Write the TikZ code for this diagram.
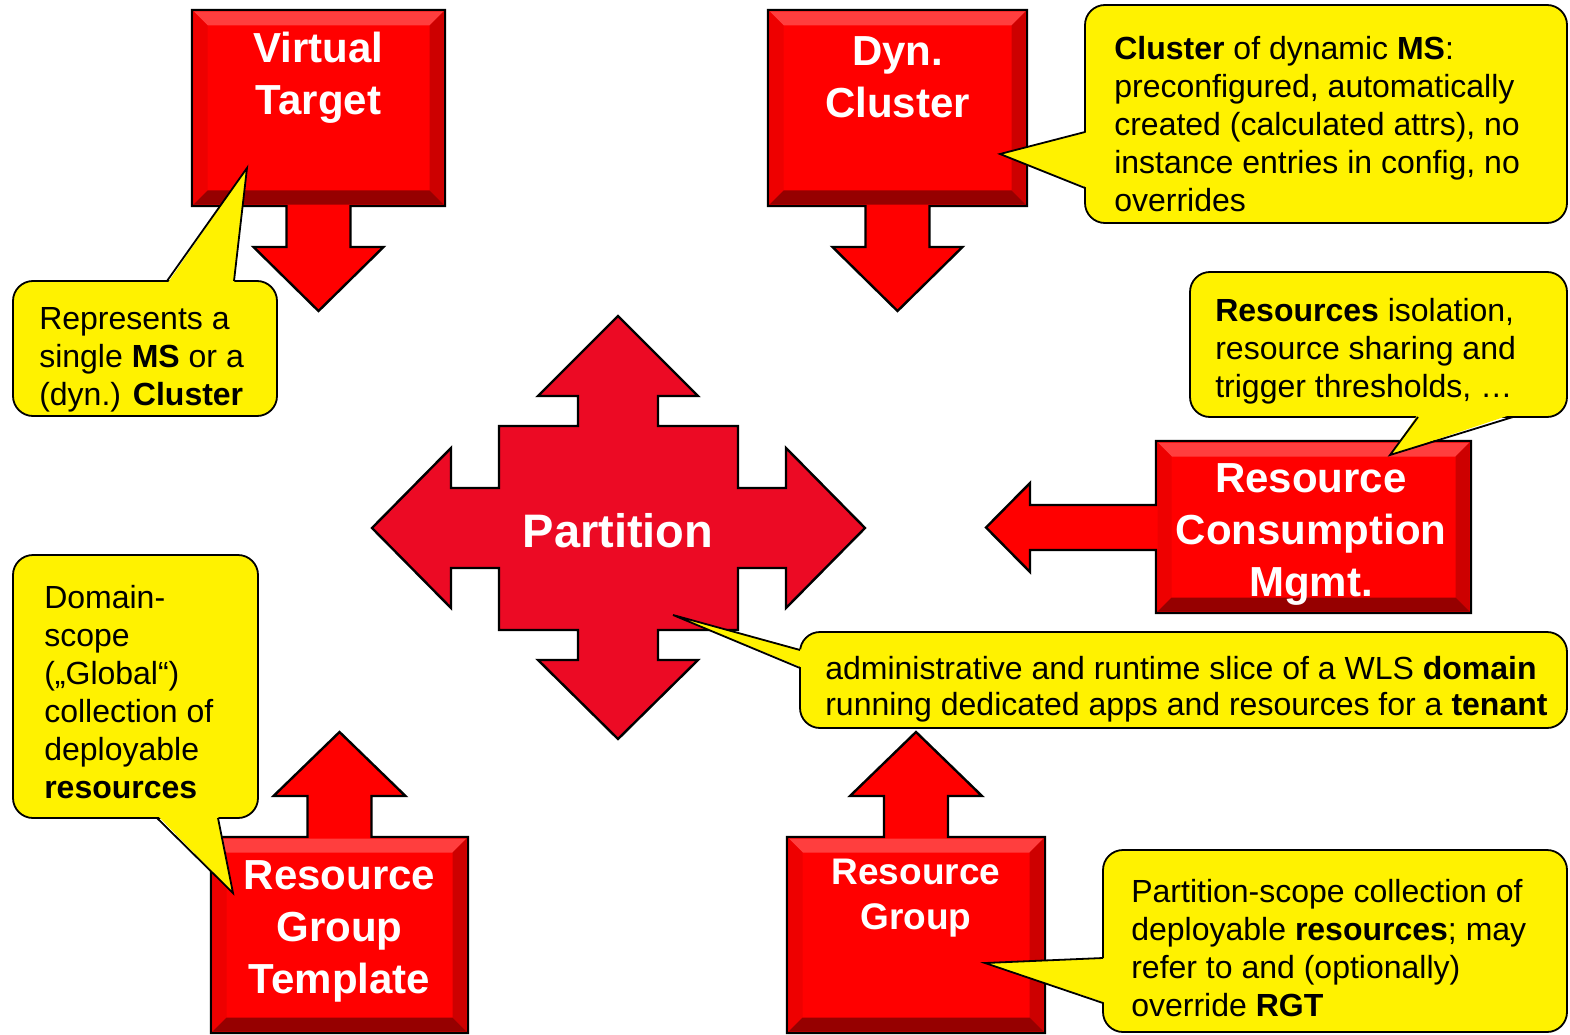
\documentclass[tikz,border=0pt]{standalone}
\usepackage{fontspec}
\setmainfont{Liberation Sans}
\usetikzlibrary{positioning}

\definecolor{boxred}{RGB}{255,0,0}
\definecolor{crossred}{RGB}{236,10,36}
\definecolor{bevlight}{RGB}{255,62,62}
\definecolor{bevdark}{RGB}{150,0,0}
\definecolor{bevside}{RGB}{205,0,0}
\definecolor{bevleft}{RGB}{238,0,0}

\newcommand{\bevelbox}[4]{%
  \fill[bevlight] (#1,#2) -- (#3,#2) -- (#3-14,#2+14) -- (#1+14,#2+14) -- cycle;
  \fill[bevleft] (#1,#2) -- (#1,#4) -- (#1+14,#4-14) -- (#1+14,#2+14) -- cycle;
  \fill[bevside] (#3,#2) -- (#3,#4) -- (#3-14,#4-14) -- (#3-14,#2+14) -- cycle;
  \fill[bevdark] (#1,#4) -- (#3,#4) -- (#3-14,#4-14) -- (#1+14,#4-14) -- cycle;
}

\begin{document}
\begin{tikzpicture}[
    x=1pt, y=-1pt,
    redshape/.style={fill=boxred, draw=black, line width=2.4pt, line join=miter},
    title/.style={text=white, font=\bfseries\fontsize{42}{52}\selectfont, align=center, inner sep=0},
    bubble/.style={draw=black, fill=yellow, line width=1.8pt, rounded corners=20pt, inner sep=0},
    note/.style={font=\fontsize{32}{38}\selectfont, align=left, inner sep=0},
    ptr/.style={draw=black, line width=1.8pt, line join=miter},
  ]
  \useasboundingbox (0,0) rectangle (1570,1035);

  \foreach \xa/\xb in {192/445,768/1027}{
      \pgfmathsetmacro{\xc}{(\xa+\xb)/2}
      \draw[redshape] (\xa,10) -- (\xb,10) -- (\xb,206) -- (\xc+32,206) -- (\xc+32,247)
      -- (\xc+65,247) -- (\xc,311) -- (\xc-65,247) -- (\xc-32,247) -- (\xc-32,206)
      -- (\xa,206) -- cycle;
      \bevelbox{\xa+1.5}{11.5}{\xb-1.5}{204.5}
    }
  \foreach \xa/\xb in {211/468,787/1045}{
      \pgfmathsetmacro{\xc}{(\xa+\xb)/2}
      \draw[redshape] (\xa,837) -- (\xc-32,837) -- (\xc-32,796) -- (\xc-66,796) -- (\xc,732)
      -- (\xc+66,796) -- (\xc+32,796) -- (\xc+32,837) -- (\xb,837) -- (\xb,1033)
      -- (\xa,1033) -- cycle;
      \bevelbox{\xa+1.5}{838.5}{\xb-1.5}{1031.5}
    }
  \draw[redshape] (1156,441) -- (1471,441) -- (1471,613) -- (1156,613) -- (1156,550)
  -- (1030,550) -- (1030,572) -- (986,527.5) -- (1030,483) -- (1030,505) -- (1156,505) -- cycle;
  \bevelbox{1157.5}{442.5}{1469.5}{611.5}

  \draw[redshape, fill=crossred] (618,316) -- (698,396) -- (658,396) -- (658,426) -- (738,426)
  -- (738,488) -- (786,488) -- (786,448) -- (865,528) -- (786,608) -- (786,568) -- (738,568)
  -- (738,630) -- (658,630) -- (658,660) -- (698,660) -- (618,739) -- (538,660) -- (578,660)
  -- (578,630) -- (499,630) -- (499,568) -- (451,568) -- (451,608) -- (372,528) -- (451,448)
  -- (451,488) -- (499,488) -- (499,426) -- (578,426) -- (578,396) -- (538,396) -- cycle;

  \node[title] (vt) at (318.5,78) {Virtual\\Target};
  \node[title] (dc) at (897.5,77) {Dyn.\\Cluster};
  \node[title, font=\bfseries\fontsize{47}{56}\selectfont] (part) at (618,531) {Partition};
  \node[title] (rcm) at (1311,534) {Resource\\Consumption\\Mgmt.};
  \node[title] (rgt) at (339.5,931) {Resource\\Group\\Template};
  \node[title, font=\bfseries\fontsize{37}{45}\selectfont] (rg) at (916,898) {Resource\\Group};

  \node[bubble, minimum width=264pt, minimum height=135pt] (vtnote) at (145,348.5) {};
  \node[bubble, minimum width=482pt, minimum height=218pt] (dcnote) at (1326,114) {};
  \node[bubble, minimum width=377pt, minimum height=145pt] (rcmnote) at (1378.5,344.5) {};
  \node[bubble, minimum width=767pt, minimum height=96pt] (partnote) at (1183.5,680) {};
  \node[bubble, minimum width=245pt, minimum height=263pt] (rgtnote) at (135.5,686.5) {};
  \node[bubble, minimum width=464pt, minimum height=182pt] (rgnote) at (1335,941) {};

  \coordinate (vttip) at (247,168);
  \coordinate (dctip) at (1000,154);
  \coordinate (rcmtip) at (1390,455);
  \coordinate (parttip) at (673,615);
  \coordinate (rgttip) at (233,893);
  \coordinate (rgtip) at (985,963);

  \foreach \ax/\ay/\bx/\by/\dx/\dy/\t in {167/281/234/281/0/3/vttip,
      1085/132/1085/188/3/0/dctip, 1418/417/1513/417/0/-3/rcmtip,
      800/650/800/668/3/0/parttip, 157/818/218/818/0/-3/rgttip,
      1103/958/1103/1003/3/0/rgtip}{
      \fill[yellow] (\ax+\dx,\ay+\dy) -- (\t) -- (\bx+\dx,\by+\dy) -- cycle;
      \draw[ptr] (\ax,\ay) -- (\t) -- (\bx,\by);
    }

  \node[note, right=27pt of vtnote.west, yshift=-11pt] (vttext)
  {Represents a\\single \textbf{MS} or a\\(dyn.) \textbf{Cluster}};
  \node[note, right=30pt of dcnote.west, yshift=-10pt] (dctext)
  {\textbf{Cluster} of dynamic \textbf{MS}:\\preconfigured, automatically\\created (calculated attrs), no\\instance entries in config, no\\overrides};
  \node[note, right=26pt of rcmnote.west, yshift=-7pt] (rcmtext)
  {\textbf{Resources} isolation,\\resource sharing and\\trigger thresholds, …};
  \node[note, font=\fontsize{32}{36}\selectfont, right=26pt of partnote.west, yshift=-9pt] (parttext)
  {administrative and runtime slice of a WLS \textbf{domain}\\running dedicated apps and resources for a \textbf{tenant}};
  \node[note, right=32pt of rgtnote.west, yshift=-6pt] (rgttext)
  {Domain-\\scope\\(„Global“)\\collection of\\deployable\\\textbf{resources}};
  \node[note, right=29pt of rgnote.west, yshift=-7pt] (rgtext)
  {Partition-scope collection of\\deployable \textbf{resources}; may\\refer to and (optionally)\\override \textbf{RGT}};
\end{tikzpicture}
\end{document}
